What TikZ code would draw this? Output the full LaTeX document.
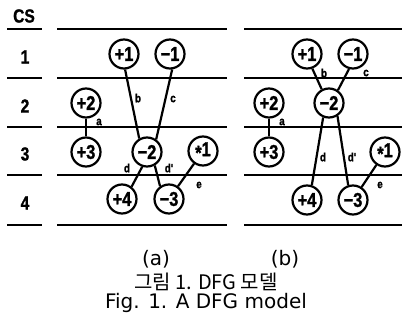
\documentclass[tikz,border=0pt]{standalone}
\usepackage{fontspec}
\setmainfont{Liberation Sans}
\newfontfamily\nodefont[FakeStretch=0.82,FakeBold=1.2]{Liberation Sans}
\newfontfamily\capfont{DejaVu Sans}
\newfontfamily\krfont{Noto Sans CJK KR}

\tikzset{
  op/.style={circle, draw, line width=2.2pt, minimum size=29pt, inner sep=0pt,
    font=\nodefont\bfseries\fontsize{20}{20}\selectfont},
  link/.style={line width=2.2pt},
  rowline/.style={line width=2.2pt},
  lab/.style={inner sep=0pt, font=\nodefont\bfseries\fontsize{12}{12}\selectfont},
  hdr/.style={inner sep=0pt, font=\nodefont\bfseries\fontsize{19}{19}\selectfont},
  captext/.style={inner sep=0pt, font=\capfont\fontsize{20}{20}\selectfont},
  krcap/.style={inner sep=0pt, font=\krfont\fontsize{20}{20}\selectfont},
}
% multiplication operator: asterisk centred on the digit height
\newcommand{\mulop}{\raisebox{-3.5pt}{*}}

\begin{document}
\begin{tikzpicture}[x=1pt,y=-1pt]
\useasboundingbox (0,0) rectangle (402,324);
\fill[white] (0,0) rectangle (402,324);

% control-step rows
\foreach \yy in {29,78,127,175,225} {
  \draw[rowline] (7,\yy) -- (42,\yy);
  \draw[rowline] (57,\yy) -- (227,\yy);
  \draw[rowline] (244,\yy) -- (402,\yy);
}
\node[hdr] (cs) at (24,16) {CS};
\node[hdr] (r1) at (25,57) {1};
\node[hdr] (r2) at (25,106) {2};
\node[hdr] (r3) at (25,154) {3};
\node[hdr] (r4) at (25,203) {4};

% ---- schedule (a)
\node[op] (ap1) at (124,54) {+1};
\node[op] (am1) at (170,54) {−1};
\node[op] (ap2) at (86,103) {+2};
\node[op] (ap3) at (86,152) {+3};
\node[op] (am2) at (147,152) {−2};
\node[op] (ax1) at (203,151) {\mulop1};
\node[op] (ap4) at (122,199) {+4};
\node[op] (am3) at (169,199) {−3};

\draw[link] (ap1.-86) -- (am2.120);
\draw[link] (am1.-82) -- (am2.54);
\draw[link] (ap2) -- (ap3);
\draw[link] (am2.252) -- (ap4.52);
\draw[link] (am2.300) -- (am3.125);
\draw[link] (ax1) -- (am3);

\node[lab] (alb) at (138,98) {b};
\node[lab] (alc) at (173,99) {c};
\node[lab] (ala) at (99,122) {a};
\node[lab] (ald) at (127,168) {d};
\node[lab] (aldd) at (169,168) {d'};
\node[lab] (ale) at (199,185) {e};

% ---- schedule (b)
\node[op] (bp1) at (307,54) {+1};
\node[op] (bm1) at (353,54) {−1};
\node[op] (bp2) at (269,103) {+2};
\node[op] (bp3) at (269,152) {+3};
\node[op] (bm2) at (329,103) {−2};
\node[op] (bx1) at (385,152) {\mulop1};
\node[op] (bp4) at (307,200) {+4};
\node[op] (bm3) at (353,200) {−3};

\draw[link] (bp1.-70) -- (bm2.118);
\draw[link] (bm1.-105) -- (bm2.55);
\draw[link] (bp2) -- (bp3);
\draw[link] (bm2.248) -- (bp4.72);
\draw[link] (bm2.303) -- (bm3.108);
\draw[link] (bx1) -- (bm3);

\node[lab] (blb) at (324,73) {b};
\node[lab] (blc) at (366,73) {c};
\node[lab] (bla) at (282,122) {a};
\node[lab] (bld) at (323,157) {d};
\node[lab] (bldd) at (352,157) {d'};
\node[lab] (ble) at (380,185) {e};

% captions
\node[captext] (capa) at (156,259) {(a)};
\node[captext] (capb) at (285,259) {(b)};
\node[krcap] (capk) at (206,282) {그림 1. DFG 모델};
\node[captext] (capf) at (206,303) {Fig. 1. A DFG model};
\end{tikzpicture}
\end{document}
